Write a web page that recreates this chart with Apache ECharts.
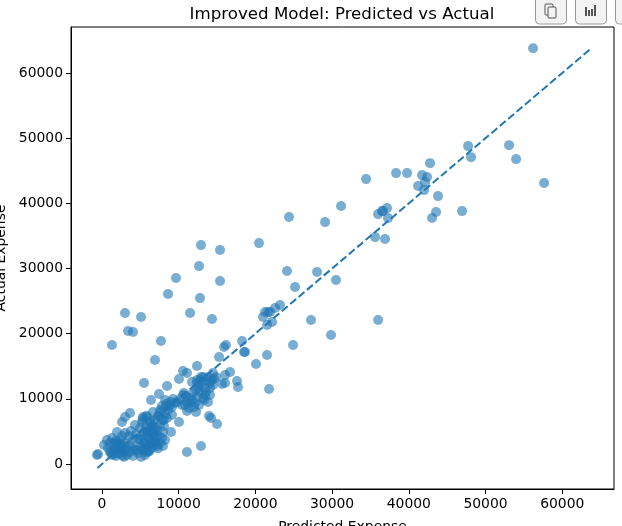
<!DOCTYPE html>
<html><head><meta charset="utf-8">
<style>html,body{margin:0;padding:0;background:#fff}#c{width:622px;height:526px}</style>
<script src="https://cdn.jsdelivr.net/npm/echarts@6/dist/echarts.min.js"></script>
</head><body><div id="c"></div>
<script>
const chartTitle = "Improved Model: Predicted vs Actual";
const xName = "Predicted Expense";
const yName = "Actual Expense";
const xTicks = [0,10000,20000,30000,40000,50000,60000];
const yTicks = [0,10000,20000,30000,40000,50000,60000];
const diagonal = [-600, 63800];
const predicted = [
56200,53070,53990,57640,47730,48120,42770,38340,39770,34430,41730,42380,42120,41210,41990,43810,31170,37160,36510,36640,35990,37290,43550,43030,46940,35600,36900,
12910,15390,20470,12650,9650,15390,8610,12780,24120,28040,25170,3000,5090,11480,14340,27250,3390,4040,7690,1300,29860,24910,6910,23210,22560,21910,21650,21260,20990,22170,21520,18260,16170,15910,15260,18520,18650,21520,
24380,29080,30510,36000,21780,20080,
12390,10560,11080,10040,11340,16040,16690,14470,13820,13170,12780,16040,15650,17600,17730,14080,12390,11740,12520,14080,13820,12390,10690,10560,9260,9780,10430,11080,12260,12130,11480,13950,14210,15000,10040,9000,12910,11080,7950,
5480,8480,7430,6390,3650,3000,2610,1960,650,260,-650,-520,
12780,13170,13430,13690,14340,14600,14870,13430,12780,12260,11870,12390,12910,14080,14470,13560,13170,11480,11080,10820,10170,9520,8870,8220,
780,1040,1300,1560,1830,2090,2350,2610,2870,2220,1560,1040,1300,1830,2480,3000,3260,3260,2870,3650,4040,4430,4690,5090,5610,6000,5350,4040,3650,4430,4960,4040,3520,3000,2610,3780,4430,4960,5480,6000,6520,5870,6260,6780,7040,6650,7300,7820,7560,8220,7950,7040,6260,5480,4960,4300,5220,5740,6260,6910,7560,8080,7300,6650,7560,8220,8610,7820,8350,8870,9130,8480,9130,8080,5870,5350,6260,7170,6000,6650,
1500,2000,2500,1800,2300,1200,2700,3100,2100,1700,5200,5600,6100,5900,6400,6900,5500,6200,6700,7200,5300,5800,6300,6800,7400,7700,4700,5100,6500,7000,6000,6600,5700,7300,7900,8400,
11740,12000,12650,13300,10950
];
const actual = [
63810,48930,46790,43110,48780,47090,46170,44640,44640,43720,44330,44030,43260,42650,42030,41110,39580,39270,38810,38810,38350,37740,38660,37740,38810,34820,34520,
33590,32830,33900,30370,28530,28070,26080,25460,29610,29450,27150,23160,22550,23160,22240,22090,20400,20250,18870,18250,19790,18250,15950,24390,23930,23320,23320,23320,22550,21780,21320,18870,18250,17950,16410,17180,17180,16720,
37890,37120,28230,22090,11510,15340,
15030,14270,13960,13040,8590,13650,14110,13960,13350,13350,12890,12430,12270,12730,11810,12430,12430,12580,11660,10580,9510,10280,10890,10580,9970,9510,9050,8130,7980,9360,9360,7360,7060,6140,6440,4910,2760,1840,2760,
12430,11970,10740,9820,7820,7210,6440,4910,3680,2910,1380,1530,
12120,12580,11660,12890,12890,13040,13350,10580,11040,11350,10890,12890,13350,11660,12120,11040,10120,10120,9510,9050,9970,9360,9050,9820,
2450,1840,1380,2150,1230,2450,1690,2760,1990,3070,3070,3220,3990,3530,3680,3220,2450,1380,1070,1840,1230,2150,1690,1070,1380,1840,2150,2300,2910,2150,2760,3680,4300,4760,4300,5060,4600,3840,3370,2910,2450,4300,3530,3220,3990,4910,4300,3990,3220,3680,4910,5520,5520,4910,5520,5980,6440,5830,6440,6750,6140,5830,7360,7980,8280,7670,8280,8900,9200,9510,8740,7060,7520,6750,7210,7210,5060,2760,4760,5830,
1500,2800,2200,3400,3000,1800,1300,2000,1600,2600,2600,3300,4000,5000,5600,3500,2300,2000,4500,5000,6900,7400,6600,5300,7400,8100,3800,4300,3100,3000,2100,4700,1900,2400,6800,8900,
9820,8740,9050,9820,10430
];
const points = predicted.map((p,i)=>[p,actual[i]]);
const bold = {color:'#000',fontFamily:'DejaVu Sans',fontSize:13.9};
function btn(x,kids){return {type:'group',x:x,y:0,children:[{type:'rect',shape:{x:0.5,y:-6,width:31,height:30,r:4},style:{fill:'#f3f3f3',stroke:'#9a9a9a',lineWidth:1}}].concat(kids)};}
const copyIcon=[
 {type:'rect',shape:{x:10,y:4,width:8,height:11,r:1},style:{fill:'#f3f3f3',stroke:'#555',lineWidth:1}},
 {type:'rect',shape:{x:13,y:7,width:8,height:11,r:1},style:{fill:'#f3f3f3',stroke:'#555',lineWidth:1}}];
const barIcon=[10,13,16,19].map((x,i)=>({type:'rect',shape:{x:x,y:[7,10,9,5][i],width:2,height:[9,6,7,11][i]},style:{fill:'#555'}}));
const chart=echarts.init(document.getElementById('c'),null,{renderer:'canvas'});
chart.setOption({
 animation:false,backgroundColor:'#fff',
 title:{text:chartTitle,left:337,top:1,textAlign:'center',textStyle:{fontFamily:'DejaVu Sans',fontSize:16.67,fontWeight:'normal',color:'#000'}},
 grid:{left:71,top:27,width:543,height:462,show:true,borderColor:'#000',borderWidth:1,backgroundColor:'transparent',outerBoundsMode:'none',containLabel:false},
 xAxis:{type:'value',min:-4040,max:66750,name:xName,nameLocation:'middle',nameGap:31,nameTextStyle:bold,
  splitLine:{show:false},axisLine:{show:true,onZero:false,lineStyle:{color:'#000',width:1}},
  axisTick:{show:true,length:5,lineStyle:{color:'#000',width:1},customValues:xTicks},
  axisLabel:{color:'#000',fontFamily:'DejaVu Sans',fontSize:13.9,margin:8,customValues:xTicks,formatter:v=>String(v)}},
 yAxis:{type:'value',min:-3836,max:67060,name:yName,nameLocation:'middle',nameGap:61,nameTextStyle:bold,
  splitLine:{show:false},axisLine:{show:true,onZero:false,lineStyle:{color:'#000',width:1}},
  axisTick:{show:true,length:5,lineStyle:{color:'#000',width:1},customValues:yTicks},
  axisLabel:{color:'#000',fontFamily:'DejaVu Sans',fontSize:13.9,margin:8,customValues:yTicks,formatter:v=>String(v)}},
 series:[
  {type:'scatter',data:points,symbolSize:10,itemStyle:{color:'#1f77b4',opacity:0.6},z:2,silent:true},
  {type:'line',data:[[diagonal[0],diagonal[0]],[diagonal[1],diagonal[1]]],symbol:'none',lineStyle:{color:'#1f77b4',width:2,type:[7.7,3.3]},z:3,silent:true}
 ],
 graphic:[btn(535,copyIcon),btn(575,barIcon),btn(615,[])]
});
</script></body></html>
